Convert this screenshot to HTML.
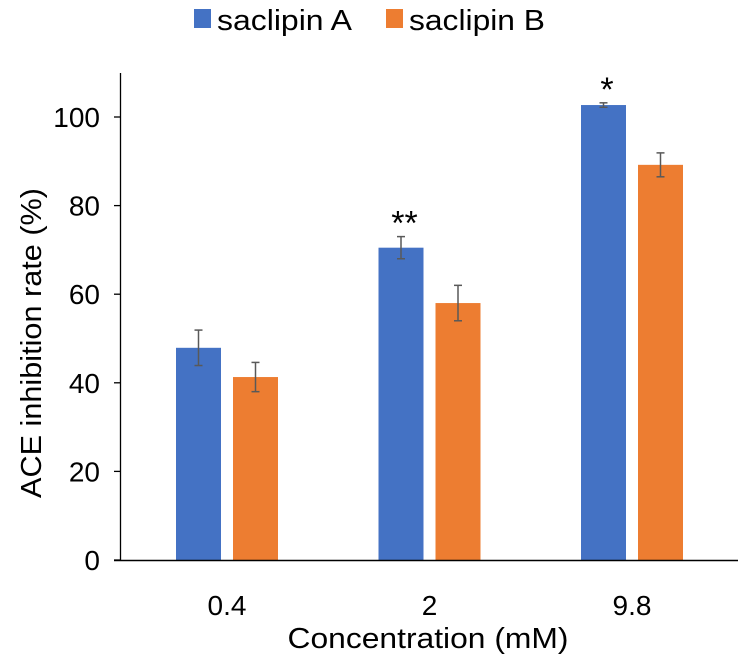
<!DOCTYPE html>
<html><head><meta charset="utf-8"><style>
body{margin:0;background:#fff;}
svg text{font-family:"Liberation Sans",Arial,sans-serif;fill:#000;}
</style></head><body>
<svg id="chart" width="738" height="666" viewBox="0 0 738 666" xmlns="http://www.w3.org/2000/svg">
<g>
 <rect x="194" y="9" width="17" height="19" fill="#4472C4"/>
 <text x="217" y="30" font-size="29" textLength="135" lengthAdjust="spacingAndGlyphs">saclipin A</text>
 <rect x="386" y="9" width="17" height="19" fill="#ED7D31"/>
 <text x="409" y="30" font-size="29" textLength="136" lengthAdjust="spacingAndGlyphs">saclipin B</text>
</g>
<g id="yticks"></g>
<line x1="120.5" y1="73" x2="120.5" y2="561" stroke="#000" stroke-width="1.3"/>
<g id="bars"></g>
<line x1="114" y1="560.5" x2="738" y2="560.5" stroke="#000" stroke-width="1.5"/>
<g id="xlabels"></g>
<text transform="translate(41,343) rotate(-90)" text-anchor="middle" font-size="29" textLength="310" lengthAdjust="spacingAndGlyphs">ACE inhibition rate (%)</text>
<text x="428" y="648" text-anchor="middle" font-size="29" textLength="281" lengthAdjust="spacingAndGlyphs">Concentration (mM)</text>
</svg>
<script>
const categories=["0.4","2","9.8"];
const seriesA=[47.9,70.5,102.7];
const seriesB=[41.3,58.0,89.2];
const errA=[4.0,2.5,0.5];
const errB=[3.3,4.0,2.7];
const sigLabels=["","**","*"];
const yTicks=[0,20,40,60,80,100];
const NS="http://www.w3.org/2000/svg";
const y=v=>560-v*4.43;
const xc=i=>227+i*202.5;
function mk(tag,attrs,parent){const e=document.createElementNS(NS,tag);for(const k in attrs)e.setAttribute(k,attrs[k]);parent.appendChild(e);return e;}
const yt=document.getElementById('yticks');
yTicks.forEach(t=>{const e=mk('text',{x:100,y:y(t)+10,'text-anchor':'end','font-size':28},yt);


e.textContent=t;
const tk=mk('line',{x1:114,x2:121,y1:y(t),y2:y(t),stroke:'#000','stroke-width':1.3},yt);

});
const bars=document.getElementById('bars');
const xl=document.getElementById('xlabels');
categories.forEach((c,i)=>{
 [[seriesA,errA,'#4472C4',-51,'a'],[seriesB,errB,'#ED7D31',6,'b']].forEach(([s,er,col,off,n])=>{
  const r=mk('rect',{x:xc(i)+off,y:y(s[i]),width:45,height:y(0)-y(s[i]),fill:col},bars);
  
  
  const cx=xc(i)+off+22.5;
  const g=mk('g',{stroke:'#595959','stroke-width':1.5},bars);
  
  
  mk('line',{x1:cx,x2:cx,y1:y(s[i]+er[i]),y2:y(s[i]-er[i])},g);
  mk('line',{x1:cx-4,x2:cx+4,y1:y(s[i]+er[i]),y2:y(s[i]+er[i])},g);
  mk('line',{x1:cx-4,x2:cx+4,y1:y(s[i]-er[i]),y2:y(s[i]-er[i])},g);
 });
 if(sigLabels[i]){const t=mk('text',{x:xc(i)-25,y:y(seriesA[i]+errA[i])-2,'text-anchor':'middle','font-size':34},bars);
 
 
 t.textContent=sigLabels[i];}
 const l=mk('text',{x:xc(i),y:615,'text-anchor':'middle','font-size':28},xl);
 
 
 l.textContent=c;
});
</script>
</body></html>
